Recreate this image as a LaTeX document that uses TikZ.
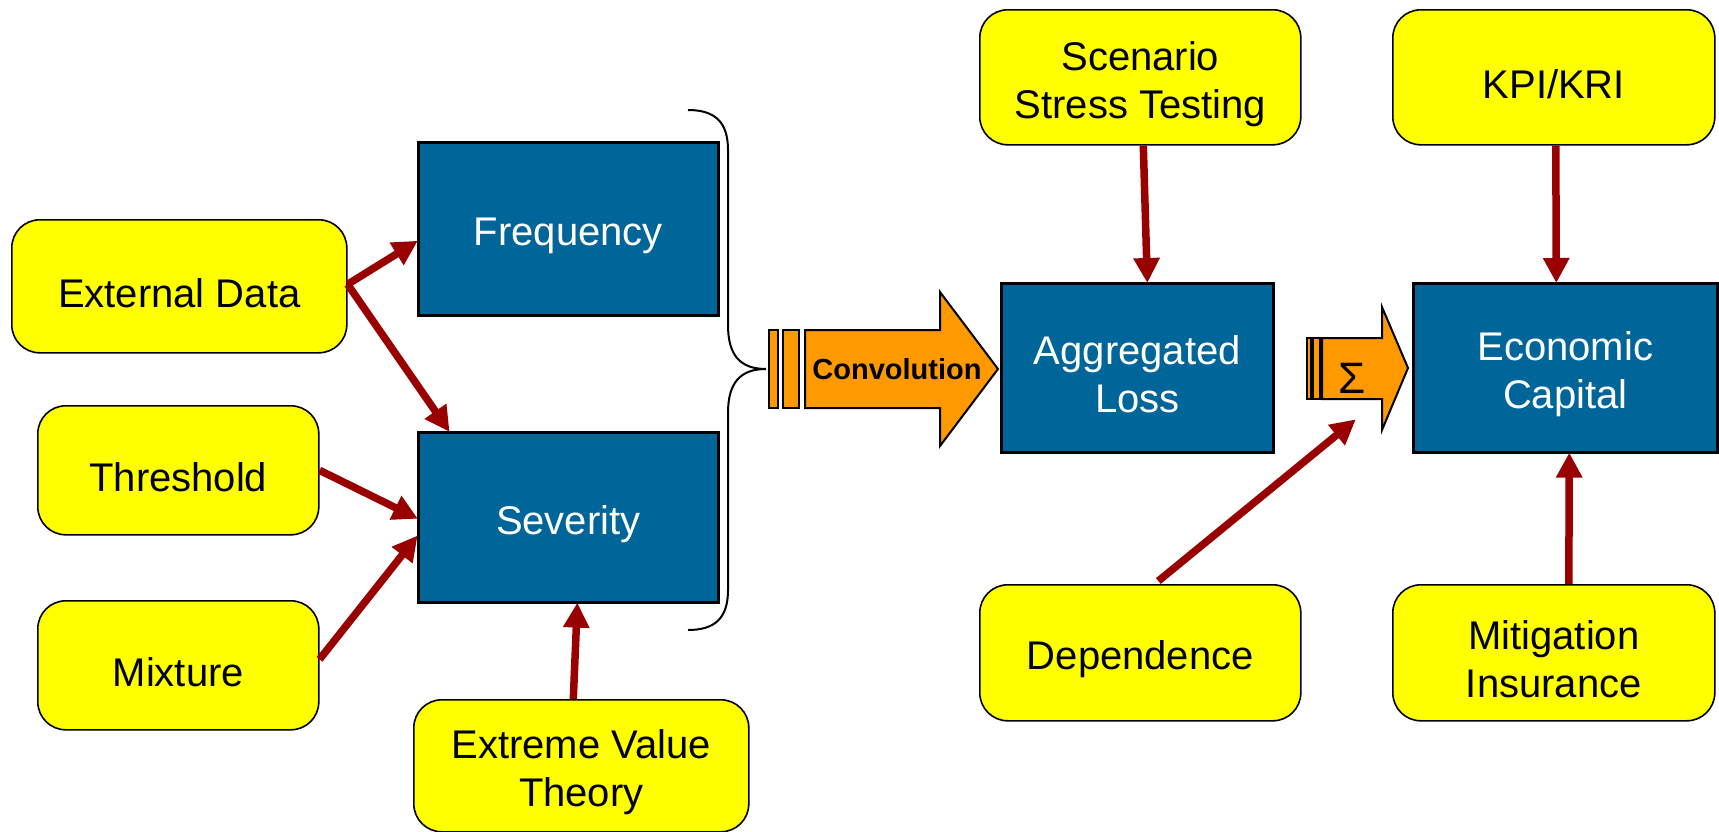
\documentclass[tikz,border=0pt]{standalone}
\usepackage{fontspec}
\setmainfont{Liberation Sans}
\usetikzlibrary{arrows.meta}
\definecolor{boxyellow}{RGB}{255,255,0}
\definecolor{boxblue}{RGB}{0,102,153}
\definecolor{flowred}{RGB}{153,0,0}
\definecolor{flowor}{RGB}{255,153,0}
% a taller first line keeps the text a little below the geometric centre
\newcommand{\fls}{\rule{0pt}{42pt}}
\tikzset{
  ybox/.style={draw=black, line width=1.6pt, fill=boxyellow, rounded corners=28pt,
    anchor=north west, align=center, inner sep=0pt,
    font=\fontsize{40}{48}\selectfont},
  bbox/.style={draw=black, line width=2.6pt, fill=boxblue, text=white,
    anchor=north west, align=center, inner sep=0pt,
    font=\fontsize{40}{48}\selectfont},
  feed/.style={draw=flowred, line width=7.5pt,
    -{Triangle[length=25pt, width=25pt]}, shorten >=-1pt},
  bigarrow/.style={draw=black, line width=2pt, fill=flowor},
}
\begin{document}
\begin{tikzpicture}[x=1pt, y=-1pt]
\useasboundingbox (0,0) rectangle (1719,831);

% input boxes (left)
\node[ybox, minimum width=335pt, minimum height=133pt] (ext) at (11,219) {\fls External Data};
\node[ybox, minimum width=281pt, minimum height=129pt] (thr) at (37,405) {\fls Threshold};
\node[ybox, minimum width=281pt, minimum height=129pt] (mix) at (37,600) {\fls Mixture};
\node[ybox, minimum width=335pt, minimum height=132pt] (evt) at (413,699) {\fls Extreme Value\\Theory};

% frequency / severity
\node[bbox, minimum width=300pt, minimum height=173pt] (freq) at (417,141) {\fls Frequency};
\node[bbox, minimum width=300pt, minimum height=170pt] (sev) at (417,431) {\fls Severity};

% right-hand boxes
\node[ybox, minimum width=321pt, minimum height=135pt] (scen) at (979,9) {\fls Scenario\\Stress Testing};
\node[ybox, minimum width=321pt, minimum height=136pt] (dep) at (979,584) {\fls Dependence};
\node[ybox, minimum width=322pt, minimum height=135pt] (kpi) at (1392,9) {\fls KPI/KRI};
\node[ybox, minimum width=322pt, minimum height=136pt] (mit) at (1392,584) {\fls Mitigation\\Insurance};
\node[bbox, minimum width=272pt, minimum height=169pt] (agg) at (1000,282) {\fls Aggregated\\Loss};
\node[bbox, minimum width=304pt, minimum height=169pt] (econ) at (1412,282) {\fls Economic\\Capital};

% brace grouping frequency and severity
\draw[line width=2pt] (688,110) .. controls (715,110) and (728,122) .. (728,150)
  -- (728,325) .. controls (728,355) and (740,369) .. (766,369)
  .. controls (740,369) and (728,383) .. (728,413)
  -- (728,590) .. controls (728,618) and (715,630) .. (688,630);

% convolution arrow
\draw[bigarrow] (769,330) rectangle (778,408);
\draw[bigarrow] (783,330) rectangle (799,408);
\draw[bigarrow] (805,330) -- (940,330) -- (940,292) -- (998,369) -- (940,446)
  -- (940,408) -- (805,408) -- cycle;
\node[font=\fontsize{29}{34}\selectfont\bfseries] (conv) at (897,369) {Convolution};

% summation arrow
\draw[bigarrow, line width=1.6pt] (1307,338) rectangle (1311,399);
\draw[bigarrow, line width=1.6pt] (1313,338) rectangle (1320,399);
\draw[bigarrow] (1322,338) -- (1382,338) -- (1382,307) -- (1408,368) -- (1382,430)
  -- (1382,399) -- (1322,399) -- cycle;
\node[font=\fontsize{44}{48}\selectfont] (sum) at (1352,378) {Σ};
\coordinate (sumin) at (1355,420);

% feeding arrows
\draw[feed] ([yshift=2pt]ext.east) -- ([yshift=-12.5pt]freq.west);
\draw[feed] ([yshift=2pt]ext.east) -- ([xshift=32pt]sev.north west);
\draw[feed] (thr.east) -- ([yshift=-1pt]sev.west);
\draw[feed] ([yshift=6pt]mix.east) -- ([yshift=-19pt]sev.west);
\draw[feed] ([xshift=-8pt]evt.north) -- ([xshift=9pt]sev.south);
\draw[feed] ([xshift=3pt]scen.south) -- ([xshift=10pt]agg.north);
\draw[feed] ([xshift=18pt,yshift=3pt]dep.north) -- (sumin);
\draw[feed] ([xshift=2pt]kpi.south) -- ([xshift=-9pt]econ.north);
\draw[feed] ([xshift=15pt]mit.north) -- ([xshift=4pt]econ.south);
\end{tikzpicture}
\end{document}
